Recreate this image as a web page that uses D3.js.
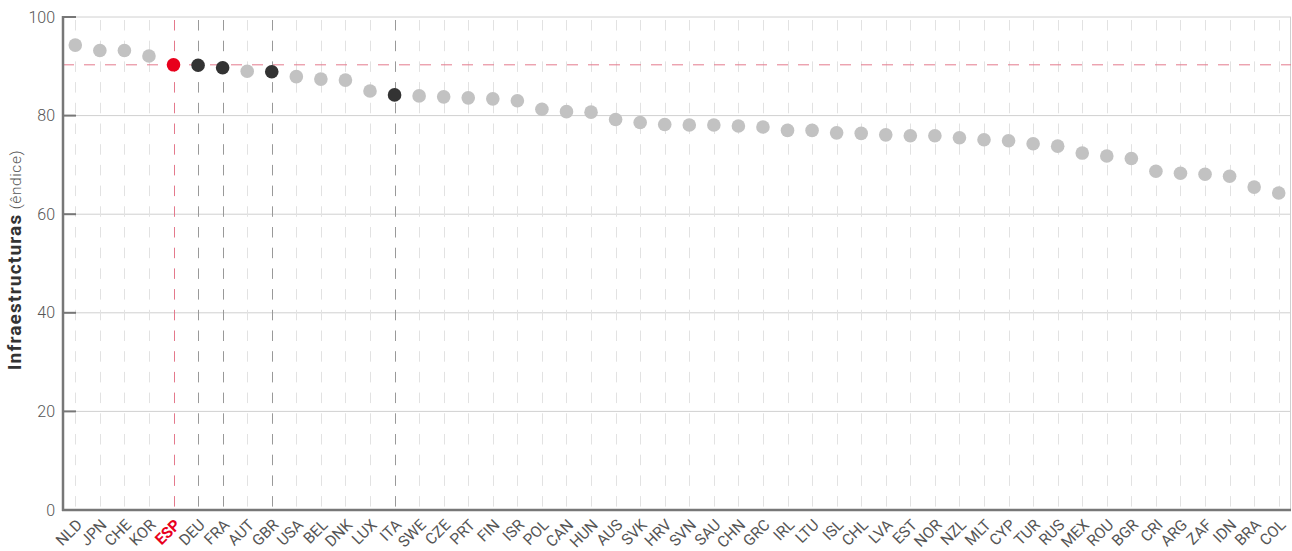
<!DOCTYPE html>
<html><head><meta charset="utf-8">
<script src="https://cdn.jsdelivr.net/npm/d3@7"></script>
<style>
body{margin:0;background:#fff;}
svg text{font-family:Roboto,"DejaVu Sans",sans-serif;}
</style></head>
<body><svg id="c" width="1292" height="551"></svg>
<script>
const countries = ["NLD","JPN","CHE","KOR","ESP","DEU","FRA","AUT","GBR","USA","BEL","DNK","LUX","ITA","SWE","CZE","PRT","FIN","ISR","POL","CAN","HUN","AUS","SVK","HRV","SVN","SAU","CHN","GRC","IRL","LTU","ISL","CHL","LVA","EST","NOR","NZL","MLT","CYP","TUR","RUS","MEX","ROU","BGR","CRI","ARG","ZAF","IDN","BRA","COL"];
const values = [94.3,93.2,93.2,92.1,90.3,90.2,89.7,89.0,88.9,87.9,87.4,87.2,85.0,84.2,84.0,83.8,83.6,83.4,83.0,81.3,80.8,80.7,79.2,78.6,78.2,78.1,78.1,77.9,77.7,77.0,77.0,76.5,76.4,76.1,75.9,75.9,75.5,75.1,74.9,74.3,73.8,72.4,71.8,71.3,68.7,68.3,68.1,67.7,65.5,64.3];
const highlight = "ESP";
const peers = ["DEU","FRA","GBR","ITA"];
const yTicks = [0,20,40,60,80,100];
const yLabelMain = "Infraestructuras";
const yLabelSub = "(êndice)";

const L=63, R=1291, T=17, B=510;
const svg = d3.select("#c");
const x = d3.scaleBand().domain(countries).range([L,R]);
const y = d3.scaleLinear().domain([0,100]).range([B,T]);
const cx = d => x(d)+x.bandwidth()/2;

// horizontal grid
svg.append("g").selectAll("line").data(yTicks.filter(t=>t>0)).join("line")
  .attr("x1",L).attr("x2",R).attr("y1",d=>y(d)).attr("y2",d=>y(d))
  .attr("stroke","#d0d0d0").attr("stroke-width",1);
// right border
svg.append("line").attr("x1",R-0.5).attr("x2",R-0.5).attr("y1",T).attr("y2",B).attr("stroke","#d0d0d0");

// vertical dashed lines
svg.append("g").selectAll("line").data(countries).join("line")
  .attr("x1",d=>Math.round(cx(d))+0.5).attr("x2",d=>Math.round(cx(d))+0.5)
  .attr("y1",T+3).attr("y2",B)
  .attr("stroke",d=>d===highlight?"#e4798c":(peers.includes(d)?"#999":"#e2e2e2"))
  .attr("stroke-width",1)
  .attr("stroke-dasharray","10.5,10.2");

// reference line at ESP value
const espVal = values[countries.indexOf(highlight)];
svg.append("line").attr("x1",L).attr("x2",R).attr("y1",y(espVal)).attr("y2",y(espVal))
  .attr("stroke","#e4798c").attr("stroke-width",1).attr("stroke-dasharray","11,10");

// y axis
const ya = svg.append("g").attr("transform",`translate(${L},0)`)
  .call(d3.axisLeft(y).tickValues(yTicks).tickSize(0).tickPadding(8));
ya.select(".domain").remove();
ya.selectAll("text").attr("font-size",16).attr("fill","#555").attr("font-weight",300)
  .attr("font-family","Roboto, sans-serif");
svg.append("g").selectAll("line").data(yTicks).join("line")
  .attr("x1",L).attr("x2",L+13).attr("y1",d=>y(d)).attr("y2",d=>y(d))
  .attr("stroke","#777").attr("stroke-width",2);
svg.append("line").attr("x1",L).attr("x2",L).attr("y1",T-1).attr("y2",B+1)
  .attr("stroke","#777").attr("stroke-width",2.5);

// x axis
svg.append("line").attr("x1",L-1).attr("x2",R).attr("y1",B).attr("y2",B)
  .attr("stroke","#777").attr("stroke-width",2.5);
const xa = svg.append("g").attr("transform",`translate(0,${B})`)
  .call(d3.axisBottom(x).tickSize(0).tickFormat(d=>d));
xa.select(".domain").remove();
xa.selectAll("text")
  .attr("text-anchor","end")
  .attr("transform","translate(4,5) rotate(-45)")
  .attr("dy","0.35em").attr("y",0).attr("x",0)
  .attr("font-size",15.5).attr("font-family","Roboto, sans-serif")
  .attr("fill",d=>d===highlight?"#e8001c":"#555")
  .attr("font-weight",d=>d===highlight?700:400);
xa.selectAll(".tick").attr("transform",d=>`translate(${cx(d)},7)`);

// dots
svg.append("g").selectAll("circle").data(countries).join("circle")
  .attr("cx",d=>cx(d)).attr("cy",(d,i)=>y(values[i])).attr("r",6.8)
  .attr("fill",d=>d===highlight?"#e8001c":(peers.includes(d)?"#333":"#c2c2c2"));

// y label
const yl = svg.append("text").attr("transform",`translate(21,260) rotate(-90)`)
  .attr("text-anchor","middle");
yl.append("tspan").text(yLabelMain).attr("font-weight",700).attr("font-size",19).attr("fill","#333")
  .attr("letter-spacing",1.2);
yl.append("tspan").text(" "+yLabelSub).attr("font-weight",300).attr("font-size",15.5).attr("fill","#555")
  .attr("letter-spacing",0.6);
</script></body></html>
